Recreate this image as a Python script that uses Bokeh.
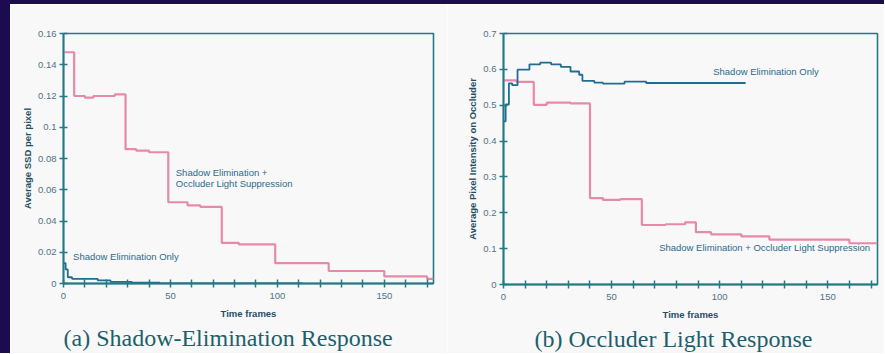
from bokeh.plotting import figure
from bokeh.layouts import row, column
from bokeh.models import FixedTicker, Label, Title, Range1d, Spacer
from bokeh.embed import file_html
from bokeh.resources import INLINE

# ---------------- data ----------------
# (a) Shadow-Elimination Response
frames_a_combined = [0, 5, 10, 14, 24, 29, 34, 40, 49, 58, 64, 74, 82, 99, 124, 150, 170, 173]
ssd_combined = [0.148, 0.120, 0.119, 0.120, 0.121, 0.086, 0.085, 0.084, 0.052, 0.050, 0.049,
                0.026, 0.025, 0.013, 0.008, 0.0045, 0.003, 0.003]
frames_a_shadow = [0, 1, 2, 4, 16, 22, 32, 45, 112]
ssd_shadow = [0.013, 0.009, 0.004, 0.003, 0.002, 0.001, 0.0005, 0.0, 0.0]

# (b) Occluder Light Response
frames_b_shadow = [0, 1, 2.5, 4, 6.5, 12, 17, 22, 26.5, 31, 35, 36.5, 42, 46, 56, 66, 112]
intensity_shadow = [0.455, 0.502, 0.561, 0.556, 0.599, 0.614, 0.619, 0.614, 0.607, 0.594,
                    0.585, 0.568, 0.563, 0.560, 0.566, 0.562, 0.562]
frames_b_combined = [0, 6, 14, 20, 31, 40, 46, 54, 64, 75, 84, 89, 96, 110, 123, 160, 173]
intensity_combined = [0.569, 0.565, 0.501, 0.507, 0.505, 0.241, 0.236, 0.238, 0.166, 0.168,
                      0.173, 0.146, 0.140, 0.134, 0.125, 0.115, 0.115]

x_ticks = list(range(0, 171, 10))
x_tick_labels = {0: "0", 50: "50", 100: "100", 150: "150"}
y_ticks_a = [0, 0.02, 0.04, 0.06, 0.08, 0.1, 0.12, 0.14, 0.16]
y_labels_a = ["0", "0.02", "0.04", "0.06", "0.08", "0.1", "0.12", "0.14", "0.16"]
y_ticks_b = [0, 0.1, 0.2, 0.3, 0.4, 0.5, 0.6, 0.7]
y_labels_b = ["0", "0.1", "0.2", "0.3", "0.4", "0.5", "0.6", "0.7"]

# ---------------- style ----------------
PINK = "#e68aa9"
BLUE = "#216c95"
AXIS = "#237a84"
TICKTXT = "#4f7382"
LABTXT = "#1e4f63"
ANN = "#2b6a8c"
CAPTION = "#1d5f6c"
BG = "#f8f8f8"
NAVY = "#1d0b4f"
SANS = "Liberation Sans"
SERIF = "Liberation Serif"


def make_panel(ymax, yticks, ylabels, ylabel, caption, cap_offset,
               fw, fh, bl, br, bt, bb):
    p = figure(frame_width=fw, frame_height=fh, title=None,
               x_range=Range1d(0, 173), y_range=Range1d(0, ymax),
               output_backend="svg", toolbar_location=None,
               min_border_left=bl, min_border_right=br,
               min_border_top=bt, min_border_bottom=bb,
               background_fill_color=BG, border_fill_color=BG)
    p.grid.visible = False
    p.outline_line_color = AXIS
    p.outline_line_width = 1.6

    xa = p.xaxis[0]
    xa.ticker = FixedTicker(ticks=x_ticks)
    xa.major_label_overrides = {t: x_tick_labels.get(t, "") for t in x_ticks}
    xa.axis_label = "Time frames"
    xa.major_label_standoff = 5
    xa.axis_label_standoff = 6

    ya = p.yaxis[0]
    ya.ticker = FixedTicker(ticks=yticks)
    ya.major_label_overrides = dict(zip(yticks, ylabels))
    ya.axis_label = ylabel
    ya.major_label_standoff = 3
    ya.axis_label_standoff = 2

    for ax in (xa, ya):
        ax.axis_line_color = AXIS
        ax.axis_line_width = 1.8
        ax.major_tick_line_color = AXIS
        ax.major_tick_line_width = 1.5
        ax.major_tick_in = 4
        ax.major_tick_out = 4
        ax.minor_tick_line_color = None
        ax.major_label_text_font = SANS
        ax.major_label_text_font_size = "9.5px"
        ax.major_label_text_color = TICKTXT
        ax.axis_label_text_font = SANS
        ax.axis_label_text_font_size = "9.5px"
        ax.axis_label_text_font_style = "bold"
        ax.axis_label_text_color = LABTXT

    cap = Title(text=caption, align="left", offset=cap_offset, standoff=3,
                text_font=SERIF, text_font_size="24px", text_font_style="normal",
                text_color=CAPTION)
    p.add_layout(cap, "below")
    return p


pa = make_panel(0.16, y_ticks_a, y_labels_a, "Average SSD per pixel",
                "(a) Shadow-Elimination Response", 0,
                fw=370, fh=250, bl=53, br=14, bt=29, bb=70)
pa.step(frames_a_combined, ssd_combined, mode="after", line_color=PINK, line_width=2.2)
pa.step(frames_a_shadow, ssd_shadow, mode="after", line_color=BLUE, line_width=1.8)
for txt, x, y in [("Shadow Elimination Only", 4.5, 0.0175),
                  ("Shadow Elimination +", 52.5, 0.071),
                  ("Occluder Light Suppression", 52.5, 0.064)]:
    pa.add_layout(Label(x=x, y=y, text=txt, text_font=SANS, text_font_size="9.5px",
                        text_color=ANN, text_baseline="middle"))

pb = make_panel(0.7, y_ticks_b, y_labels_b, "Average Pixel Intensity on Occluder",
                "(b) Occluder Light Response", 31,
                fw=374, fh=251, bl=56, br=7, bt=28, bb=70)
pb.step(frames_b_combined, intensity_combined, mode="after", line_color=PINK, line_width=2.2)
pb.step(frames_b_shadow, intensity_shadow, mode="after", line_color=BLUE, line_width=1.8)
for txt, x, y in [("Shadow Elimination Only", 97, 0.594),
                  ("Shadow Elimination + Occluder Light Suppression", 72, 0.103)]:
    pb.add_layout(Label(x=x, y=y, text=txt, text_font=SANS, text_font_size="9.5px",
                        text_color=ANN, text_baseline="middle"))

left_strip = Spacer(width=10, height=349, styles={"background-color": NAVY})
top_strip = Spacer(width=884, height=4, styles={"background-color": NAVY})
layout = column(top_strip, row(left_strip, pa, pb, spacing=0), spacing=0)
open("out.html", "w").write(file_html(layout, INLINE))
